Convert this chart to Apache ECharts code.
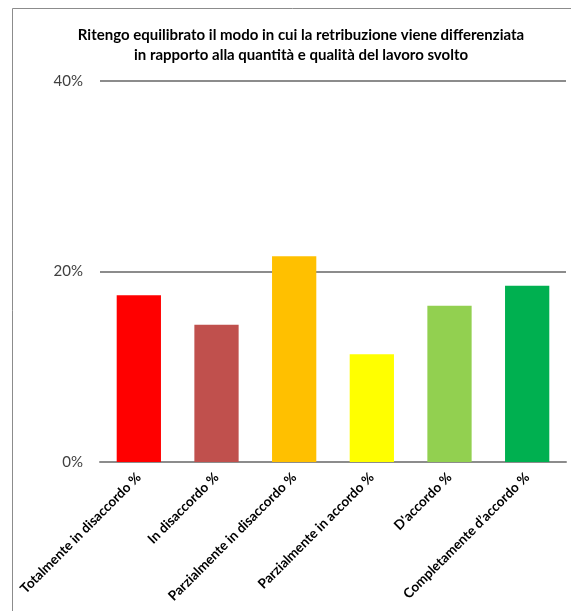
<!DOCTYPE html>
<html>
<head>
<meta charset="utf-8">
<style>
  html, body { margin: 0; padding: 0; background: #ffffff; }
  #chart { width: 571px; height: 611px; }
</style>
<script src="https://cdn.jsdelivr.net/npm/echarts@6/dist/echarts.min.js"></script>
</head>
<body>
<div id="chart"></div>
<script>
// Survey answers: share of respondents per agreement level
const categories = [
  'Totalmente in disaccordo %',
  'In disaccordo %',
  'Parzialmente in disaccordo %',
  'Parzialmente in accordo %',
  "D'accordo %",
  'Completamente d\u2019accordo %'
];
const values = [17.5, 14.4, 21.6, 11.3, 16.4, 18.5];
const barColors = ['#FF0000', '#C0504D', '#FFC000', '#FFFF00', '#92D050', '#00B050'];
const yTicks = [0, 20, 40];
const titleLines = [
  'Ritengo equilibrato il modo in cui la retribuzione viene differenziata',
  'in rapporto alla quantità e qualità del lavoro svolto'
];

const chart = echarts.init(document.getElementById('chart'), null, { renderer: 'canvas' });

chart.setOption({
  animation: false,
  backgroundColor: '#ffffff',
  title: {
    text: titleLines.join('\n'),
    left: 296,
    textAlign: 'center',
    top: 20,
    textStyle: {
      fontFamily: 'Lato',
      fontWeight: 'bold',
      fontSize: 15,
      lineHeight: 20,
      color: '#000000'
    }
  },
  graphic: [{
    type: 'rect',
    shape: { x: 12.5, y: 8.5, width: 700, height: 700 },
    style: { fill: 'none', stroke: '#8c8c8c', lineWidth: 1 },
    silent: true
  }],
  grid: { left: 100, right: 5, top: 81, bottom: 149 },
  xAxis: {
    type: 'category',
    data: categories,
    axisLine: { show: true, lineStyle: { color: '#8c8c8c', width: 2 } },
    axisTick: { show: false },
    axisLabel: {
      interval: 0,
      rotate: 45,
      margin: 13,
      fontFamily: 'Lato',
      fontWeight: 'bold',
      fontSize: 13.5,
      color: '#000000'
    }
  },
  yAxis: {
    type: 'value',
    min: yTicks[0],
    max: yTicks[yTicks.length - 1],
    interval: yTicks[1] - yTicks[0],
    axisLine: { show: false },
    axisTick: { show: false },
    splitLine: { lineStyle: { color: '#8c8c8c', width: 2 } },
    axisLabel: {
      formatter: '{value}%',
      margin: 17,
      fontFamily: 'Lato',
      fontSize: 15,
      color: '#404040'
    }
  },
  series: [{
    type: 'bar',
    barWidth: '57%',
    data: values.map((v, i) => ({ value: v, itemStyle: { color: barColors[i] } }))
  }]
});
</script>
</body>
</html>
